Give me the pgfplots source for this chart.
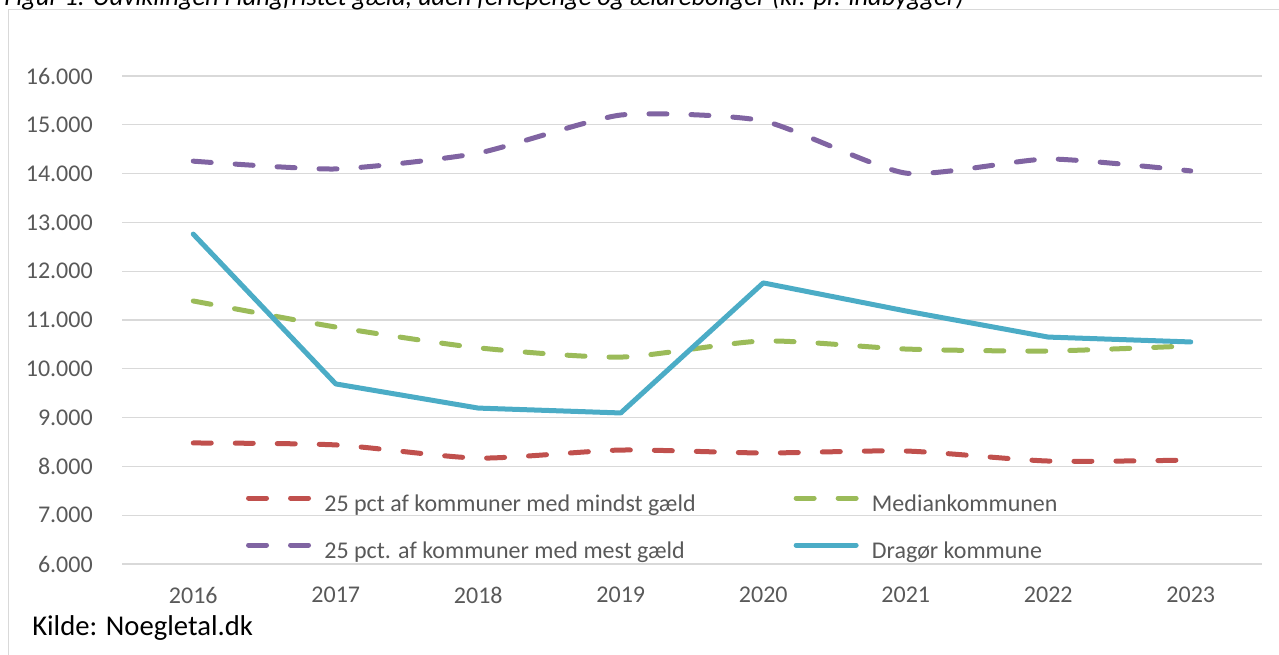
\documentclass[border=0pt]{standalone}
\usepackage{fontspec}
\setmainfont{Carlito}
\usepackage{pgfplots}
\pgfplotsset{compat=1.18}
\definecolor{cred}{HTML}{C0504D}
\definecolor{cgreen}{HTML}{9BBB59}
\definecolor{cpurple}{HTML}{8064A2}
\definecolor{cblue}{HTML}{4BACC6}
\definecolor{ctext}{HTML}{595959}
\definecolor{cgrid}{HTML}{D9D9D9}
\begin{document}
\begin{tikzpicture}
\useasboundingbox (0,0) rectangle (959.25pt,-491.25pt);
\clip (0,0) rectangle (959.25pt,-491.25pt);
\draw[cgrid, line width=1.2pt] (6.5pt,-1000pt) -- (6.5pt,-7pt) -- (1000pt,-7pt);
\node[anchor=base west, font=\fontsize{19.8}{22}\selectfont\itshape, inner sep=0pt] at (3pt,-4pt) {Figur 1: Udviklingen i langfristet gæld, uden feriepenge og ældreboliger (kr. pr. indbygger)};
\node[anchor=base west, font=\fontsize{21.5}{24}\selectfont, inner sep=0pt] at (24pt,-477pt) {Kilde: Noegletal.dk};
\begin{axis}[
  at={(91.5pt,-423pt)}, anchor=south west,
  scale only axis, width=855pt, height=366pt,
  xmin=-0.5, xmax=7.5, ymin=6000, ymax=16000,
  ytick={6000,7000,...,16000},
  xtick={0,...,7},
  xticklabels={2016,2017,2018,2019,2020,2021,2022,2023},
  axis line style={draw=none},
  tick style={draw=none}, major tick length=0pt,
  ymajorgrids, major grid style={cgrid, line width=1pt},
  scaled y ticks=false,
  /pgf/number format/.cd, fixed, precision=0, 1000 sep={.}, assume math mode=true,
  /pgfplots/.cd,
  yticklabel style={font=\fontsize{18}{20}\selectfont, text=ctext, inner sep=0pt, anchor=east, xshift=-21.75pt},
  xticklabel style={font=\fontsize{18}{20}\selectfont, text=ctext, inner sep=0pt, anchor=north, yshift=-17.25pt},
  legend columns=2,
  legend cell align=left,
  legend style={draw=none, fill=none, at={(0.1088,0.144)}, anchor=north west,
    font=\fontsize{18}{20}\selectfont, text=ctext, inner sep=0pt, outer sep=0pt,
    row sep=18.25pt,
    nodes={inner sep=0pt, text height=13pt, text depth=4pt},
    /tikz/every odd column/.append style={column sep=10pt},
    /tikz/every even column/.append style={column sep=73.5pt}},
  legend image code/.code={\draw[#1] (1.875pt,5.25pt) -- (46.875pt,5.25pt);},
  every axis plot/.append style={line width=3.75pt, line cap=round, line join=round},
]
\addplot[cred, dash pattern=on 13.5pt off 18pt, smooth, tension=0.4] coordinates {
(0,8480) (1,8440) (2,8170) (3,8335) (4,8275) (5,8315) (6,8110) (7,8130)};
\addlegendentry{25 pct af kommuner med mindst gæld}
\addplot[cgreen, dash pattern=on 13.5pt off 18pt, smooth, tension=0.4] coordinates {
(0,11390) (1,10855) (2,10430) (3,10240) (4,10570) (5,10405) (6,10365) (7,10470)};
\addlegendentry{Mediankommunen}
\addplot[cpurple, dash pattern=on 13.5pt off 18pt, smooth, tension=0.35] coordinates {
(0,14255) (1,14095) (2,14420) (3,15200) (4,15080) (5,14010) (6,14300) (7,14055)};
\addlegendentry{25 pct. af kommuner med mest gæld}
\addplot[cblue] coordinates {
(0,12760) (1,9690) (2,9195) (3,9095) (4,11760) (5,11185) (6,10650) (7,10550)};
\addlegendentry{Dragør kommune}
\end{axis}
\end{tikzpicture}
\end{document}
